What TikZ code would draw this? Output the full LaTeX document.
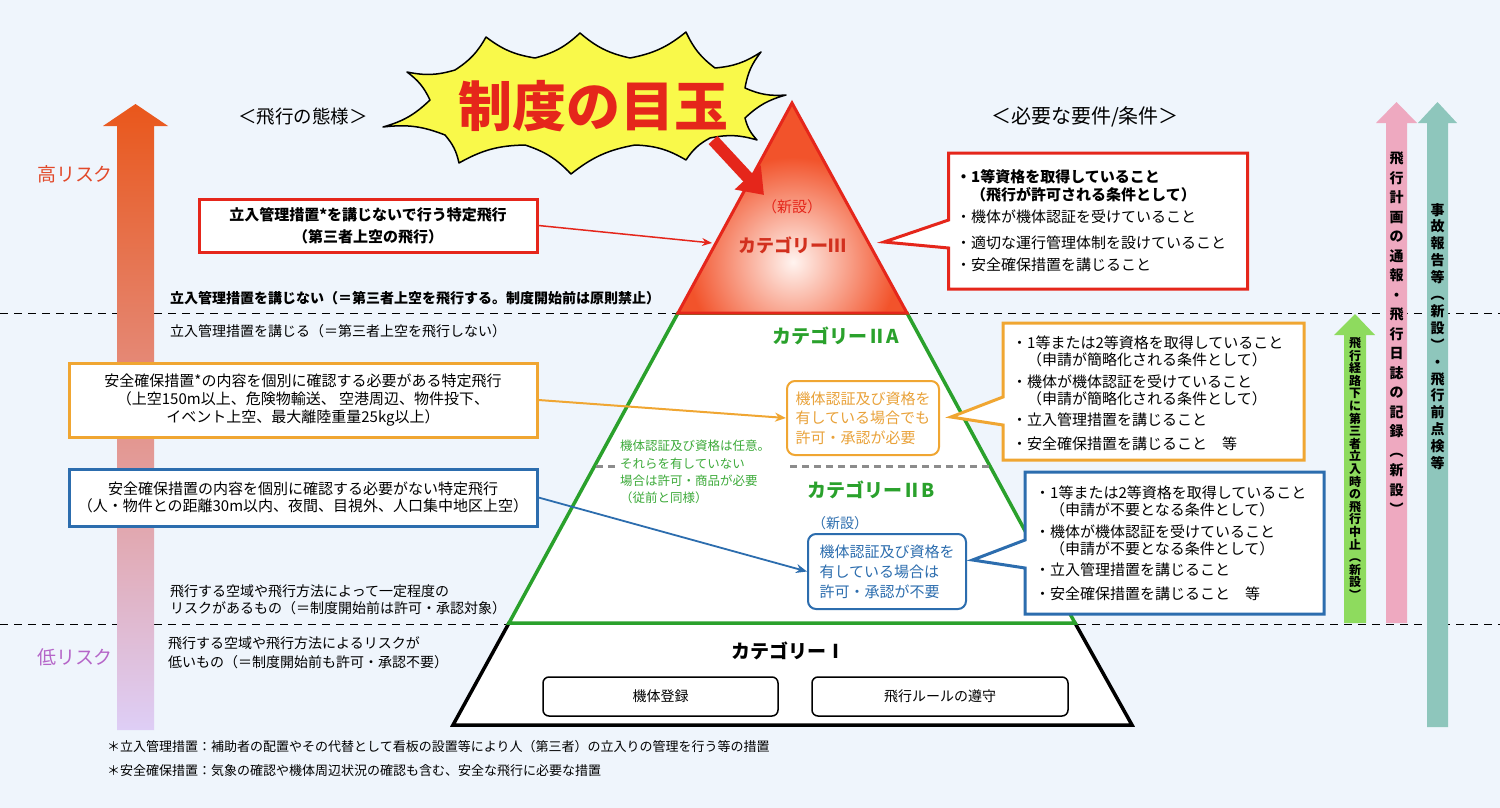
\documentclass[tikz,border=0pt]{standalone}
\usepackage{fontspec}
\setmainfont{Noto Sans CJK JP}
\usetikzlibrary{arrows.meta}
\definecolor{bgc}{HTML}{EFF5FC}
\definecolor{myred}{HTML}{E5261B}
\definecolor{c3red}{HTML}{D2301E}
\definecolor{myorange}{HTML}{F0A632}
\definecolor{otext}{HTML}{E9A23A}
\definecolor{myblue}{HTML}{2C6DAE}
\definecolor{mygreen}{HTML}{2AA12C}
\definecolor{gtext}{HTML}{3DAA3A}
\definecolor{stary}{HTML}{F9F94A}
\definecolor{arrg}{HTML}{8EDB5E}
\definecolor{arrp}{HTML}{EEA9C0}
\definecolor{arrt}{HTML}{8EC6BC}
\definecolor{hirisk}{HTML}{E2492A}
\definecolor{lorisk}{HTML}{B565C8}
\definecolor{triout}{HTML}{F2532B}
\definecolor{triin}{HTML}{FFF4F0}
\definecolor{grayd}{HTML}{8C8C8C}
\newcommand\myfs[2]{\fontsize{#1}{#2}\selectfont}
\tikzset{
 dline/.style={black, line width=1pt, dash pattern=on 8pt off 6pt},
 tx/.style={inner sep=0pt, anchor=west},
 ctx/.style={inner sep=0pt},
 box/.style={rectangle, fill=white, line width=3pt, align=center, inner sep=0pt},
 rbox/.style={rectangle, rounded corners=8pt, fill=white, line width=2pt, align=left, inner sep=0pt},
 cbox/.style={rectangle, rounded corners=6pt, fill=white, draw=black, line width=1.5pt, inner sep=0pt, minimum height=39pt},
 callout/.style={line width=3pt, fill=white, line join=miter},
 vtxt/.style={inner sep=0pt, align=center, font=\bfseries},
}
\begin{document}
\begin{tikzpicture}[x=1pt,y=-1pt]
\fill[bgc] (0,0) rectangle (1500,808);
\useasboundingbox (0,0) rectangle (1500,808);

% dashed separators
\draw[dline] (0,313) -- (1500,313);
\draw[dline] (0,624) -- (1500,624);

% left risk arrow
\shade[top color={rgb,255:red,233;green,87;blue,27}, middle color={rgb,255:red,229;green,150;blue,150}, bottom color={rgb,255:red,222;green,206;blue,246}]
 (117,730) -- (117,126) -- (103,126) -- (135.5,104) -- (168,126) -- (154,126) -- (154,730) -- cycle;
\node[ctx, text=hirisk, font=\myfs{19}{22}] (hr) at (75,174) {高リスク};
\node[ctx, text=lorisk, font=\myfs{19}{22}] (lr) at (75,657) {低リスク};

% right arrows
\fill[arrg] (1344,623) -- (1344,335) -- (1334,335) -- (1355,314) -- (1375,335) -- (1366,335) -- (1366,623) -- cycle;
\fill[arrp] (1386,623) -- (1386,123) -- (1376,123) -- (1396.5,102) -- (1417,123) -- (1407,123) -- (1407,623) -- cycle;
\fill[arrt] (1427,727) -- (1427,123) -- (1418,123) -- (1437.5,102) -- (1457,123) -- (1448,123) -- (1448,727) -- cycle;
\node[vtxt, font=\myfs{12}{12.6}\bfseries] (vg) at (1355,468.5) {飛\\行\\経\\路\\下\\に\\第\\三\\者\\立\\入\\時\\の\\飛\\行\\中\\止\\︵\\新\\設\\︶};
\node[vtxt, font=\myfs{14}{19.5}\bfseries] (vp) at (1396.5,333.5) {飛\\行\\計\\画\\の\\通\\報\\・\\飛\\行\\日\\誌\\の\\記\\録\\︵\\新\\設\\︶};
\node[vtxt, font=\myfs{14}{16.9}\bfseries] (vt) at (1437.5,336.5) {事\\故\\報\\告\\等\\︵\\新\\設\\︶\\・\\飛\\行\\前\\点\\検\\等};

% pyramid
\draw[black, line width=3.5pt, fill=white] (509,623) -- (1075,623) -- (1132,725) -- (453,725) -- cycle;
\draw[mygreen, line width=3.5pt, fill=white] (678,313) -- (907,313) -- (1075,623) -- (509,623) -- cycle;
\fill[triout] (792,103) -- (907,313) -- (678,313) -- cycle;
\begin{scope}
 \clip (792,103) -- (907,313) -- (678,313) -- cycle;
 \shade[inner color=triin, outer color=triout] (793,262) circle (105);
\end{scope}
\draw[myred, line width=3pt, line join=miter] (792,103) -- (907,313) -- (678,313) -- cycle;

% gray dashed divider
\draw[grayd, line width=3pt, dash pattern=on 7pt off 5pt] (596,466) -- (616,466);
\draw[grayd, line width=3pt, dash pattern=on 7pt off 5pt] (790,466) -- (989,466);

% category labels
\node[ctx, text=myred, font=\myfs{15}{18}] (c3new) at (792,207) {（新設）};
\node[ctx, text=c3red, font=\myfs{18}{21}\bfseries] (c3) at (792,245) {カテゴリーⅢ};
\node[ctx, text=mygreen, font=\myfs{19}{22}\bfseries] (c2a) at (836,336) {カテゴリーⅡA};
\node[ctx, text=mygreen, font=\myfs{19}{22}\bfseries] (c2b) at (871,490) {カテゴリーⅡB};
\node[ctx, text=black, font=\myfs{19}{22}\bfseries] (c1) at (788,651) {カテゴリーⅠ};

\node[ctx, text=gtext, font=\myfs{12.5}{17.3}, align=left, anchor=west] (gnote) at (620,472) {機体認証及び資格は任意。\\それらを有していない\\場合は許可・商品が必要\\（従前と同様）};

\node[rbox, draw=myorange, text=otext, font=\myfs{15}{19.5}, minimum width=152pt, minimum height=74pt] (oin) at (863,418) {機体認証及び資格を\\有している場合でも\\許可・承認が必要};
\node[ctx, text=myblue, font=\myfs{14}{17}] (bnew) at (840,523) {（新設）};
\node[rbox, draw=myblue, text=myblue, font=\myfs{15}{20}, minimum width=158pt, minimum height=75pt] (bin) at (887,571.5) {機体認証及び資格を\\有している場合は\\許可・承認が不要};

\node[cbox, minimum width=235pt, font=\myfs{14}{17}] (kitai) at (660.5,696.5) {機体登録};
\node[cbox, minimum width=256pt, font=\myfs{14}{17}] (rule) at (940,696.5) {飛行ルールの遵守};

% headings
\node[ctx, font=\myfs{18.5}{22}] (h1) at (303,117) {＜飛行の態様＞};
\node[ctx, font=\myfs{20}{24}] (h2) at (1085,117) {＜必要な要件/条件＞};

% left boxes
\node[box, draw=myred, minimum width=338pt, minimum height=53pt, font=\myfs{15}{22}\bfseries] (redbox) at (368,225.5) {立入管理措置*を講じないで行う特定飛行\\（第三者上空の飛行）};
\node[box, draw=myorange, minimum width=468pt, minimum height=74pt, font=\myfs{15}{18}] (obox) at (303,400) {安全確保措置*の内容を個別に確認する必要がある特定飛行\\（上空150m以上、危険物輸送、 空港周辺、物件投下、\\イベント上空、最大離陸重量25kg以上）};
\node[box, draw=myblue, minimum width=468pt, minimum height=57pt, font=\myfs{15}{17}] (bluebox) at (303,497.5) {安全確保措置の内容を個別に確認する必要がない特定飛行\\（人・物件との距離30m以内、夜間、目視外、人口集中地区上空）};

% left texts
\node[tx, font=\myfs{14}{17}\bfseries] (l1) at (170,298) {立入管理措置を講じない（＝第三者上空を飛行する。制度開始前は原則禁止）};
\node[tx, font=\myfs{14}{17}] (l2) at (170,331) {立入管理措置を講じる（＝第三者上空を飛行しない）};
\node[tx, font=\myfs{14}{17}] (l3a) at (170,591) {飛行する空域や飛行方法によって一定程度の};
\node[tx, font=\myfs{14}{17}] (l3b) at (170,608) {リスクがあるもの（＝制度開始前は許可・承認対象）};
\node[tx, font=\myfs{14}{17}] (l4a) at (168,643) {飛行する空域や飛行方法によるリスクが};
\node[tx, font=\myfs{14}{17}] (l4b) at (168,662) {低いもの（＝制度開始前も許可・承認不要）};

% footnotes
\node[tx, font=\myfs{13}{16}] (f1) at (107,747) {＊立入管理措置：補助者の配置やその代替として看板の設置等により人（第三者）の立入りの管理を行う等の措置};
\node[tx, font=\myfs{13}{16}] (f2) at (107,771) {＊安全確保措置：気象の確認や機体周辺状況の確認も含む、安全な飛行に必要な措置};

% connectors
\coordinate (c3in) at (712,243);
\draw[myred, line width=1.5pt, -{Stealth[length=10pt,width=8pt]}] (redbox.east) -- (c3in);
\draw[myorange, line width=2pt, -{Stealth[length=11pt,width=9pt]}] (obox.east) -- (oin.west);
\draw[myblue, line width=1.8pt, -{Stealth[length=11pt,width=9pt]}] (bluebox.east) -- (bin.west);

% callouts
\draw[callout, draw=myred] (948.6,153) -- (1247.6,153) -- (1247.6,289) -- (948.6,289) -- (948.6,248) -- (884,242) -- (948.6,220) -- cycle;
\node[tx, font=\myfs{15}{18}\bfseries] (r1) at (956,177) {・1等資格を取得していること};
\node[tx, font=\myfs{15}{18}\bfseries] (r2) at (956,195) {　（飛行が許可される条件として）};
\node[tx, font=\myfs{15}{18}] (r3) at (956,217) {・機体が機体認証を受けていること};
\node[tx, font=\myfs{15}{18}] (r4) at (956,243) {・適切な運行管理体制を設けていること};
\node[tx, font=\myfs{15}{18}] (r5) at (956,265) {・安全確保措置を講じること};

\draw[callout, draw=myorange] (1003,323) -- (1304,323) -- (1304,460) -- (1003,460) -- (1003,425) -- (951,417) -- (1003,397) -- cycle;
\node[tx, font=\myfs{15}{18}] (o1) at (1012,343) {・1等または2等資格を取得していること};
\node[tx, font=\myfs{15}{18}] (o2) at (1012,360) {　（申請が簡略化される条件として）};
\node[tx, font=\myfs{15}{18}] (o3) at (1012,382) {・機体が機体認証を受けていること};
\node[tx, font=\myfs{15}{18}] (o4) at (1012,399) {　（申請が簡略化される条件として）};
\node[tx, font=\myfs{15}{18}] (o5) at (1012,420) {・立入管理措置を講じること};
\node[tx, font=\myfs{15}{18}] (o6) at (1012,444) {・安全確保措置を講じること　等};

\draw[callout, draw=myblue] (1025,472) -- (1324,472) -- (1324,614) -- (1025,614) -- (1025,568) -- (972.5,560) -- (1025,540) -- cycle;
\node[tx, font=\myfs{15}{18}] (b1) at (1035,493) {・1等または2等資格を取得していること};
\node[tx, font=\myfs{15}{18}] (b2) at (1035,510) {　（申請が不要となる条件として）};
\node[tx, font=\myfs{15}{18}] (b3) at (1035,532) {・機体が機体認証を受けていること};
\node[tx, font=\myfs{15}{18}] (b4) at (1035,549) {　（申請が不要となる条件として）};
\node[tx, font=\myfs{15}{18}] (b5) at (1035,570) {・立入管理措置を講じること};
\node[tx, font=\myfs{15}{18}] (b6) at (1035,594) {・安全確保措置を講じること　等};

% starburst
\draw[fill=stary, line width=1.5pt, line join=round]
 (383,127) to[bend right=14] (430,100) to[bend right=14] (407,72) to[bend right=14] (455,70) to[bend right=14] (486,37) to[bend right=14] (535,58) to[bend right=14] (580,33) to[bend right=14] (630,58) to[bend right=14] (686,32) to[bend right=14] (715,68) to[bend right=14] (761,52) to[bend right=14] (745,88) to[bend right=14] (786,95) to[bend right=14] (745,118) to[bend right=14] (757,140) to[bend right=14] (710,138) to[bend right=14] (686,160) to[bend right=14] (635,145) to[bend right=14] (571,174) to[bend right=14] (525,145) to[bend right=14] (459,163) to[bend right=14] (445,135) to[bend right=14] (383,127) -- cycle;
\node[ctx, text=myred, font=\myfs{54}{60}\bfseries] (medama) at (593,106) {制度の目玉};
\coordinate (bigS) at (713,140);
\coordinate (bigE) at (764,195);
\draw[myred, line width=12pt, -{Triangle[width=34pt,length=24pt]}] (bigS) -- (bigE);
\end{tikzpicture}
\end{document}
